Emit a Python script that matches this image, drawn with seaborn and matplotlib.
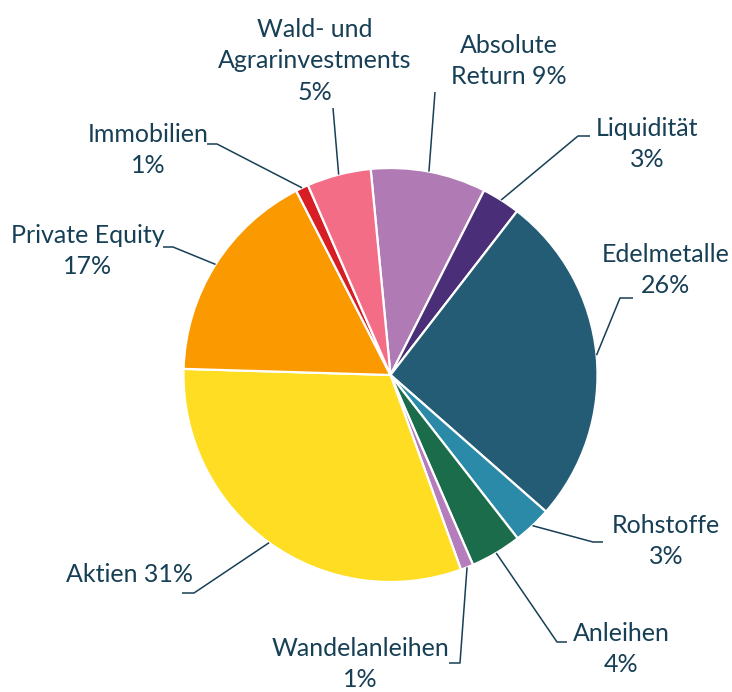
import numpy as np
import matplotlib
matplotlib.use("Agg")
import matplotlib.pyplot as plt
import seaborn as sns

# ---- data ----
categories = ["Absolute Return", "Liquidität", "Edelmetalle", "Rohstoffe", "Anleihen",
              "Wandelanleihen", "Aktien", "Private Equity", "Immobilien",
              "Wald- und Agrarinvestments"]
values = [9, 3, 26, 3, 4, 1, 31, 17, 1, 5]
label_texts = ["Absolute\nReturn 9%", "Liquidität\n3%", "Edelmetalle\n26%", "Rohstoffe\n3%",
               "Anleihen\n4%", "Wandelanleihen\n1%", "Aktien 31%", "Private Equity\n17%",
               "Immobilien\n1%", "Wald- und\nAgrarinvestments\n5%"]
colors = ["#B07AB4", "#4A2F78", "#245C75", "#2A8AA7", "#1B6C4A",
          "#B57DBB", "#FEDD22", "#FA9A00", "#D71E25", "#F46D87"]

sns.set_theme(style="white")
plt.rcParams['font.family'] = ['Lato', 'DejaVu Sans']

W, H = 732, 692
fig = plt.figure(figsize=(W / 100, H / 100), dpi=100)
ax = fig.add_axes([0, 0, 1, 1])

def P(x, y):
    return (x, H - y)

cx, cy = P(390.5, 375)
R = 207
wedges, _ = ax.pie(values, colors=sns.color_palette(colors), startangle=95.5,
                   counterclock=False, center=(cx, cy), radius=R,
                   wedgeprops=dict(edgecolor="white", linewidth=1.6))
ax.set_xlim(0, W)
ax.set_ylim(0, H)
ax.set_aspect("equal")
ax.axis("off")

txt_color = "#173F55"
# layout: label centre, elbow point, end of horizontal segment (pixel coords)
layout = {
    "Absolute Return": ((509, 61), (435, 92), None),
    "Liquidität": ((647, 144), (578, 136), (590, 136)),
    "Edelmetalle": ((666, 270), (620, 298), (633, 298)),
    "Rohstoffe": ((666, 541), (593, 542), (603, 542)),
    "Anleihen": ((621, 649), (557, 642), (567, 642)),
    "Wandelanleihen": ((360, 664), (460, 663), (449, 663)),
    "Aktien": ((129, 574), (194, 593), (182, 593)),
    "Private Equity": ((88, 251), (173, 247), (163, 247)),
    "Immobilien": ((148, 150), (217, 144), (207, 144)),
    "Wald- und Agrarinvestments": ((315, 61), (333, 108), None),
}

for w, cat, lab in zip(wedges, categories, label_texts):
    mid = np.deg2rad((w.theta1 + w.theta2) / 2)
    sx, sy = cx + R * np.cos(mid), cy + R * np.sin(mid)
    (lx, ly), elbow, end = layout[cat]
    xs = [sx, elbow[0]]
    ys = [sy, H - elbow[1]]
    if end is not None:
        xs.append(end[0]); ys.append(H - end[1])
    ax.plot(xs, ys, color=txt_color, lw=1.1, solid_capstyle="butt", zorder=3)
    ax.text(*P(lx, ly), lab, ha="center", va="center", fontsize=18,
            color=txt_color, linespacing=1.45)

fig.savefig("out.png", dpi=100)
